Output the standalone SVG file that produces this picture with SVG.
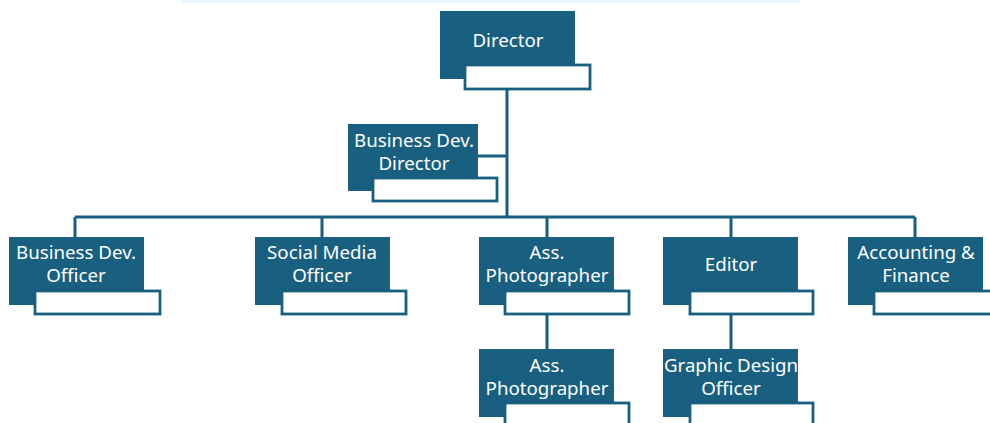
<svg xmlns="http://www.w3.org/2000/svg" width="990" height="423" viewBox="0 0 990 423">
<style>
.box{fill:#185f80}
.tag{fill:#fff;stroke:#185f80;stroke-width:2.8}
.t{fill:#fff;font-family:"Noto Sans","Liberation Sans",sans-serif;font-size:18.7px;text-anchor:middle}
.c{fill:none;stroke:#185f80;stroke-width:3}
</style>
<rect width="990" height="423" fill="#fff"/>
<rect x="182" y="0" width="618" height="3" fill="#e9f4fc"/>
<g id="connectors">
<path class="c" d="M507 89V217M75 217H915M75 217V237M322 217V237M547 217V237M731 217V237M915 217V237M478 156H507M547 314V349M731 314V349"/>
</g>
<g id="director">
<rect class="box" x="440" y="11" width="135" height="68"/>
<rect class="tag" x="465" y="65" width="125" height="24"/>
<text class="t" x="508" y="47">Director</text>
</g>
<g id="bizdev-director">
<rect class="box" x="348" y="124" width="130" height="67"/>
<rect class="tag" x="373" y="178" width="124" height="23"/>
<text class="t" x="414" y="147">Business Dev.</text>
<text class="t" x="414" y="170">Director</text>
</g>
<g id="bizdev-officer">
<rect class="box" x="9" y="237" width="135" height="68"/>
<rect class="tag" x="35" y="291" width="125" height="23"/>
<text class="t" x="76" y="259">Business Dev.</text>
<text class="t" x="76" y="282">Officer</text>
</g>
<g id="social-media">
<rect class="box" x="255" y="237" width="135" height="68"/>
<rect class="tag" x="282" y="291" width="124" height="23"/>
<text class="t" x="322" y="259">Social Media</text>
<text class="t" x="322" y="282">Officer</text>
</g>
<g id="ass-photographer-1">
<rect class="box" x="479" y="237" width="135" height="68"/>
<rect class="tag" x="505" y="291" width="124" height="23"/>
<text class="t" x="547" y="259">Ass.</text>
<text class="t" x="547" y="282">Photographer</text>
</g>
<g id="editor">
<rect class="box" x="663" y="237" width="135" height="68"/>
<rect class="tag" x="690" y="291" width="123" height="23"/>
<text class="t" x="731" y="271">Editor</text>
</g>
<g id="accounting">
<rect class="box" x="848" y="237" width="135" height="68"/>
<rect class="tag" x="874" y="291" width="125" height="23"/>
<text class="t" x="916" y="259">Accounting &amp;</text>
<text class="t" x="916" y="282">Finance</text>
</g>
<g id="ass-photographer-2">
<rect class="box" x="479" y="349" width="135" height="68"/>
<rect class="tag" x="505" y="403" width="124" height="23"/>
<text class="t" x="547" y="372">Ass.</text>
<text class="t" x="547" y="395">Photographer</text>
</g>
<g id="graphic-design">
<rect class="box" x="663" y="349" width="135" height="68"/>
<rect class="tag" x="690" y="403" width="123" height="23"/>
<text class="t" x="731" y="372">Graphic Design</text>
<text class="t" x="731" y="395">Officer</text>
</g>
</svg>
